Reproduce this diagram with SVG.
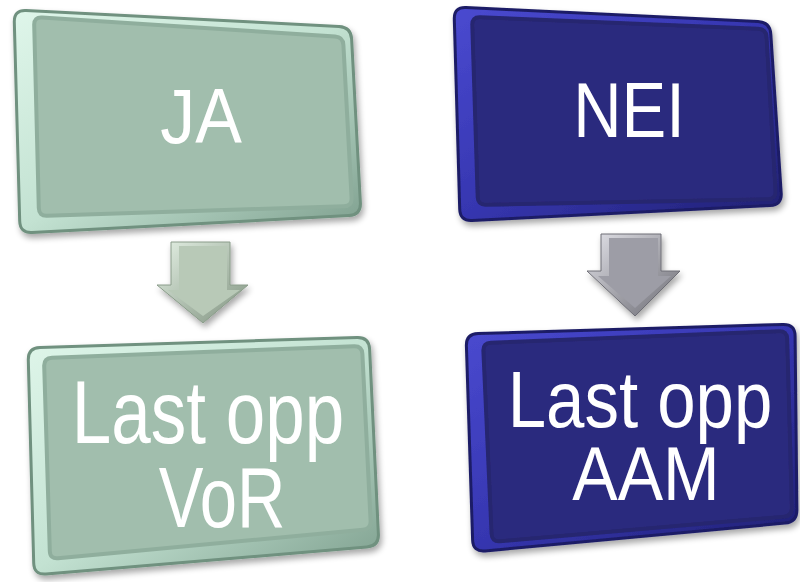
<svg xmlns="http://www.w3.org/2000/svg" width="800" height="582" viewBox="0 0 800 582">
<defs>
  <filter id="sh" x="-10%" y="-10%" width="125%" height="125%">
    <feGaussianBlur in="SourceAlpha" stdDeviation="3"/>
    <feOffset dx="2" dy="4" result="b"/>
    <feComponentTransfer><feFuncA type="linear" slope="0.35"/></feComponentTransfer>
    <feMerge><feMergeNode/><feMergeNode in="SourceGraphic"/></feMerge>
  </filter>
  <linearGradient id="gBevel" x1="0" y1="0" x2="1" y2="1">
    <stop offset="0" stop-color="#dff6ea"/>
    <stop offset="0.5" stop-color="#c3e2d2"/>
    <stop offset="1" stop-color="#7e9f8e"/>
  </linearGradient>
  <linearGradient id="bBevel" x1="0" y1="0" x2="1" y2="1">
    <stop offset="0" stop-color="#4a4ad0"/>
    <stop offset="0.5" stop-color="#3636b0"/>
    <stop offset="1" stop-color="#202070"/>
  </linearGradient>
  <linearGradient id="gArrow" x1="0" y1="0" x2="1" y2="1">
    <stop offset="0" stop-color="#e4f0e4"/>
    <stop offset="1" stop-color="#7f927f"/>
  </linearGradient>
  <linearGradient id="aArrow" x1="0" y1="0" x2="1" y2="1">
    <stop offset="0" stop-color="#e2e2e8"/>
    <stop offset="1" stop-color="#6a6a72"/>
  </linearGradient>
  <style>
    .gOut { fill: url(#gBevel); stroke: #6f917f; stroke-width: 3; stroke-linejoin: round; }
    .gIn { fill: #a1bead; stroke: #8fae9d; stroke-width: 4; stroke-linejoin: round; }
    .bOut { fill: url(#bBevel); stroke: #1d1d66; stroke-width: 3; stroke-linejoin: round; }
    .bIn { fill: #2c2b7e; stroke: #262670; stroke-width: 4; stroke-linejoin: round; }
    .lbl { font-family: "Liberation Sans", Arial, sans-serif; fill: #ffffff; text-anchor: middle; }
  </style>
</defs>

<g id="connectors">
  <g id="arrow-ja" filter="url(#sh)">
    <polygon points="171,242 230,242 230,285 248,285 203,323 157,285 171,285" fill="url(#gArrow)" stroke="#8a9c8a" stroke-width="1" stroke-linejoin="round"/>
    <polygon points="179,246 227,246 227,290 240,290 203,316 168,290 179,290" fill="#b8c9b7"/>
  </g>
  <g id="arrow-nei" filter="url(#sh)">
    <polygon points="601,234 661,234 661,271 680,271 635,316 587,271 601,271" fill="url(#aArrow)" stroke="#6e6e76" stroke-width="1" stroke-linejoin="round"/>
    <polygon points="609,238 658,238 658,276 671,276 635,308 598,276 609,276" fill="#9d9da6"/>
  </g>
</g>

<g id="node-ja" filter="url(#sh)">
  <path class="gOut" d="M 26,10.6 L 339,26.4 Q 351,27 351.6,39 L 360.4,203 Q 361,215 349,215.6 L 32,232.4 Q 20,233 19.7,221 L 14.3,22 Q 14,10 26,10.6 Z"/>
  <path class="gIn" d="M 42,17.5 L 335,36.5 Q 343,37 343.4,45 L 351.6,198 Q 352,206 344,206.3 L 47,215.7 Q 39,216 38.8,208 L 34.2,25 Q 34,17 42,17.5 Z"/>
  <text class="lbl" font-size="70" transform="translate(201,143) scale(1,1.12)">JA</text>
</g>

<g id="node-nei" filter="url(#sh)">
  <path class="bOut" d="M 466,7.6 L 758,21.4 Q 770,22 770.8,34 L 781.2,193 Q 782,205 770,205.6 L 472,220.4 Q 460,221 459.7,209 L 454.3,19 Q 454,7 466,7.6 Z"/>
  <path class="bIn" d="M 480,17.3 L 758,28.7 Q 766,29 766.5,37 L 775.5,191 Q 776,199 768,199.2 L 486,204.8 Q 478,205 477.7,197 L 472.3,25 Q 472,17 480,17.3 Z"/>
  <text class="lbl" font-size="67" transform="translate(629,137) scale(1,1.15)">NEI</text>
</g>

<g id="node-vor" filter="url(#sh)">
  <path class="gOut" d="M 40,347.6 L 357,337.4 Q 369,337 369.6,349 L 378.4,534 Q 379,546 367,547 L 46,574 Q 34,575 33.7,563 L 28.3,360 Q 28,348 40,347.6 Z"/>
  <path class="gIn" d="M 52,357.7 L 354,346.3 Q 362,346 362.4,354 L 370.6,521 Q 371,529 363,529.7 L 58,558.3 Q 50,559 49.8,551 L 44.2,366 Q 44,358 52,357.7 Z"/>
  <text class="lbl" font-size="71" transform="translate(208,443) scale(1,1.26)">Last opp</text>
  <text class="lbl" font-size="67" transform="translate(222,527) scale(1,1.28)">VoR</text>
</g>

<g id="node-aam" filter="url(#sh)">
  <path class="bOut" d="M 478,333.6 L 783,324.4 Q 795,324 795.1,336 L 796.9,510 Q 797,522 785,523.1 L 485,550.9 Q 473,552 472.6,540 L 466.4,346 Q 466,334 478,333.6 Z"/>
  <path class="bIn" d="M 491,342.7 L 779,331.3 Q 787,331 787.2,339 L 791.8,508 Q 792,516 784,516.7 L 500,541.3 Q 492,542 491.6,534 L 483.4,351 Q 483,343 491,342.7 Z"/>
  <text class="lbl" font-size="69" transform="translate(640,427) scale(1,1.15)">Last opp</text>
  <text class="lbl" font-size="68" transform="translate(646,500) scale(1,1.13)">AAM</text>
</g>
</svg>
